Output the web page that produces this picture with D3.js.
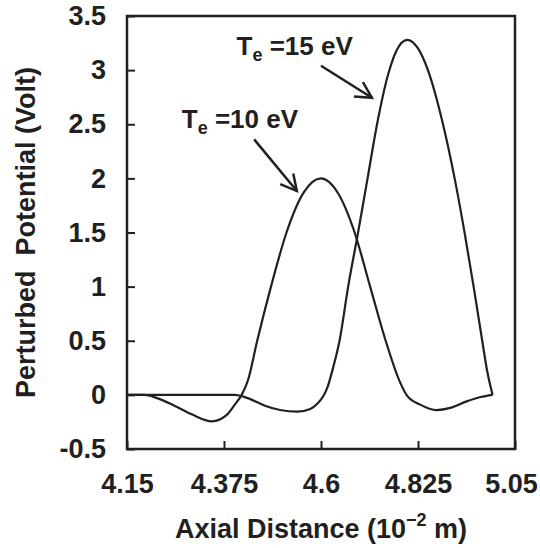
<!DOCTYPE html>
<html lang="en">
<head>
    <meta charset="UTF-8">
    <title>Perturbed Potential vs Axial Distance</title>
    <style>
        body { margin: 0; background: #fff; }
        #chart { width: 540px; height: 548px; }
        text { font-family: "Liberation Sans", Arial, Helvetica, sans-serif; font-weight: bold; fill: #231f20; }
    </style>
</head>
<body>
<div id="chart"></div>

<script src="https://d3js.org/d3.v7.min.js"></script>
<script>
// axis ticks
const xTicks = [4.15, 4.375, 4.6, 4.825, 5.05];
const yTicks = [-0.5, 0, 0.5, 1, 1.5, 2, 2.5, 3, 3.5];

// Te = 10 eV curve
const xTe10 = [4.15, 4.19, 4.22, 4.26, 4.30, 4.347, 4.38, 4.40, 4.416, 4.431, 4.452, 4.484, 4.52, 4.56, 4.60,
               4.64, 4.678, 4.714, 4.75, 4.783, 4.80, 4.83, 4.868, 4.90, 4.938, 4.97, 4.998];
const yTe10 = [0, 0, -0.03, -0.10, -0.18, -0.245, -0.19, -0.09, 0, 0.14, 0.5, 1.0, 1.5, 1.87, 2.0,
               1.86, 1.5, 1.0, 0.5, 0.12, -0.01, -0.09, -0.14, -0.12, -0.06, -0.02, 0];

// Te = 15 eV curve
const xTe15 = [4.15, 4.30, 4.40, 4.43, 4.47, 4.505, 4.545, 4.575, 4.592, 4.604, 4.615, 4.628, 4.643, 4.663, 4.686,
               4.708, 4.73, 4.755, 4.775, 4.80, 4.825, 4.848, 4.883, 4.91, 4.933, 4.954, 4.974, 4.985, 4.998];
const yTe15 = [0, 0, 0, -0.03, -0.10, -0.14, -0.155, -0.13, -0.08, -0.02, 0.07, 0.25, 0.5, 1.0, 1.5,
               2.0, 2.5, 2.95, 3.18, 3.28, 3.2, 3.0, 2.5, 2.0, 1.5, 1.0, 0.5, 0.23, 0];

// annotation labels and arrows, in data units
const labelNames = ["15", "10"];
const labelX = [4.404, 4.277];
const labelY = [3.14, 2.463];
const arrowFromX = [4.600, 4.445];
const arrowFromY = [3.04, 2.36];
const arrowToX = [4.718, 4.544];
const arrowToY = [2.745, 1.883];

const width = 540, height = 548;
const margin = { top: 16, right: 25, bottom: 99, left: 127 };
const fontSize = 27;

const svg = d3.select("#chart").append("svg")
    .attr("width", width)
    .attr("height", height);

const x = d3.scaleLinear()
    .domain([4.15, 5.05])
    .range([margin.left, width - margin.right]);

const y = d3.scaleLinear()
    .domain([-0.5, 3.5])
    .range([height - margin.bottom, margin.top]);

const ink = "#231f20";

// y axis (ticks point inward)
const yAxis = svg.append("g")
    .attr("transform", `translate(${margin.left},0)`)
    .call(d3.axisLeft(y).tickValues(yTicks).tickSizeInner(-8).tickSizeOuter(0).tickPadding(21)
        .tickFormat(d => d === -0.5 ? "-0.5" : String(d)));
yAxis.select(".domain").remove();
yAxis.selectAll(".tick line").attr("stroke", ink).attr("stroke-width", 2);
yAxis.selectAll(".tick text").attr("font-size", fontSize).attr("fill", ink);

// x axis
const xAxis = svg.append("g")
    .attr("transform", `translate(0,${height - margin.bottom})`)
    .call(d3.axisBottom(x).tickValues(xTicks).tickSizeInner(-8).tickSizeOuter(0).tickPadding(25)
        .tickFormat(d => String(d)));
xAxis.select(".domain").remove();
xAxis.selectAll(".tick line").attr("stroke", ink).attr("stroke-width", 2);
xAxis.selectAll(".tick text").attr("font-size", fontSize).attr("fill", ink);
// last label sits against the right edge
xAxis.selectAll(".tick text").filter(d => d === 5.05).attr("dx", -4);

// frame
svg.append("rect")
    .attr("x", x(4.15))
    .attr("y", y(3.5))
    .attr("width", x(5.05) - x(4.15))
    .attr("height", y(-0.5) - y(3.5))
    .attr("fill", "none")
    .attr("stroke", ink)
    .attr("stroke-width", 2.5);

// curves
const line = d3.line()
    .x(d => x(d[0]))
    .y(d => y(d[1]))
    .curve(d3.curveMonotoneX);

[[xTe10, yTe10], [xTe15, yTe15]].forEach(([xs, ys]) => {
    svg.append("path")
        .datum(xs.map((v, i) => [v, ys[i]]))
        .attr("d", line)
        .attr("fill", "none")
        .attr("stroke", ink)
        .attr("stroke-width", 2.2);
});

// labels: T_e =NN eV
labelNames.forEach((name, i) => {
    const t = svg.append("text")
        .attr("x", x(labelX[i]))
        .attr("y", y(labelY[i]))
        .attr("font-size", 26);
    t.append("tspan").text("T");
    t.append("tspan").attr("font-size", 18).attr("dy", 6).text("e");
    t.append("tspan").attr("dy", -6).text(" =" + name + " eV");
});

// arrows with open heads
labelNames.forEach((name, i) => {
    const x0 = x(arrowFromX[i]), y0 = y(arrowFromY[i]);
    const x1 = x(arrowToX[i]), y1 = y(arrowToY[i]);
    const ang = Math.atan2(y0 - y1, x0 - x1);
    const len = 18, spread = 28 * Math.PI / 180;
    const g = svg.append("g")
        .attr("stroke", ink)
        .attr("stroke-width", 2.5)
        .attr("fill", "none");
    g.append("line").attr("x1", x0).attr("y1", y0).attr("x2", x1).attr("y2", y1);
    g.append("path")
        .attr("d", `M${x1 + len * Math.cos(ang - spread)},${y1 + len * Math.sin(ang - spread)}`
            + `L${x1},${y1}`
            + `L${x1 + len * Math.cos(ang + spread)},${y1 + len * Math.sin(ang + spread)}`);
});

// axis titles
svg.append("text")
    .attr("transform", `translate(35,${(y(3.5) + y(-0.5)) / 2}) rotate(-90)`)
    .attr("text-anchor", "middle")
    .attr("font-size", fontSize)
    .attr("xml:space", "preserve")
    .text("Perturbed  Potential (Volt)");

const xt = svg.append("text")
    .attr("x", (x(4.15) + x(5.05)) / 2)
    .attr("y", 538)
    .attr("text-anchor", "middle")
    .attr("font-size", fontSize);
xt.append("tspan").text("Axial Distance (10");
xt.append("tspan").attr("font-size", 18).attr("dy", -12).text("\u22122");
xt.append("tspan").attr("dy", 12).text(" m)");
</script>

</body>
</html>
